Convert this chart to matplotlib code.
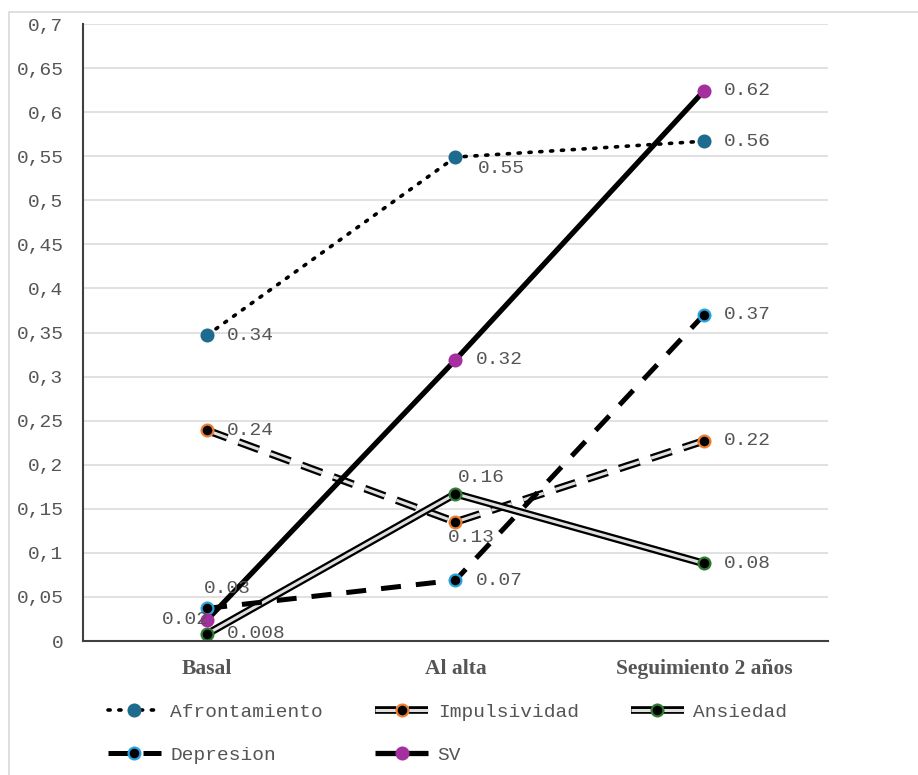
import matplotlib
matplotlib.use("Agg")
import matplotlib.pyplot as plt
import matplotlib.patheffects as pe
from matplotlib.legend_handler import HandlerTuple
from matplotlib.patches import Rectangle
import numpy as np

# data
categories = ["Basal", "Al alta", "Seguimiento 2 años"]
afrontamiento = [0.347, 0.549, 0.567]
impulsividad = [0.239, 0.135, 0.227]
ansiedad = [0.008, 0.167, 0.088]
depresion = [0.037, 0.069, 0.370]
sv = [0.024, 0.319, 0.624]

afrontamiento_lbl = ["0.34", "0.55", "0.56"]
impulsividad_lbl = ["0.24", "0.13", "0.22"]
ansiedad_lbl = ["0.008", "0.16", "0.08"]
depresion_lbl = ["0.03", "0.07", "0.37"]
sv_lbl = ["0.02", "0.32", "0.62"]

TXT = "#555555"
MONO = "Liberation Mono"
FS = 14

fig = plt.figure(figsize=(9.18, 7.75), dpi=100)
ax = fig.add_axes([83 / 918, 1 - 641 / 775, 745 / 918, 617 / 775])

# outer frame
fig.patches.append(Rectangle((9 / 918, -0.1), 1.2, 1 - 12 / 775 + 0.1,
                             transform=fig.transFigure, fill=False,
                             edgecolor="#d9d9d9", linewidth=1.2, zorder=0))

x = np.arange(len(categories))


def series(vals, labels, offsets, line_kw, mk_kw, effects=None, z=2):
    kw = dict(solid_capstyle="butt", dash_capstyle="butt")
    kw.update(line_kw)
    ln, = ax.plot(x, vals, zorder=z, **kw)
    if effects:
        ln.set_path_effects(effects)
    mk, = ax.plot(x, vals, linestyle="none", marker="o", markersize=8.5,
                  markeredgewidth=1.6, zorder=z + 0.5, **mk_kw)
    for xi, v, t, (dx, dy, ha) in zip(x, vals, labels, offsets):
        ax.annotate(t, (xi, v), xytext=(dx, dy), textcoords="offset pixels",
                    ha=ha, va="center", fontsize=FS, family=MONO, color=TXT,
                    zorder=10)
    return (ln, mk)


double = [pe.Stroke(linewidth=5.5, foreground="black"), pe.Normal()]

h_afr = series(afrontamiento, afrontamiento_lbl,
               [(20, 0, "left"), (22, -11, "left"), (20, 0, "left")],
               dict(color="black", linewidth=2.6, linestyle=(0, (0.6, 2.4)),
                    dash_capstyle="round"),
               dict(markerfacecolor="#1d6b8e", markeredgecolor="#1d6b8e"))
h_imp = series(impulsividad, impulsividad_lbl,
               [(20, 0, "left"), (-8, -15, "left"), (20, 0, "left")],
               dict(color="#e0e0e0", linewidth=2.2, linestyle=(0, (7, 4))),
               dict(markerfacecolor="black", markeredgecolor="#ed7d31"),
               effects=double)
h_ans = series(ansiedad, ansiedad_lbl,
               [(20, 0, "left"), (2, 16, "left"), (20, 0, "left")],
               dict(color="#e0e0e0", linewidth=2.2, linestyle="-"),
               dict(markerfacecolor="black", markeredgecolor="#2e7d32"),
               effects=double)
h_dep = series(depresion, depresion_lbl,
               [(-3, 20, "left"), (20, 0, "left"), (20, 0, "left")],
               dict(color="black", linewidth=3.6, linestyle=(0, (4, 3))),
               dict(markerfacecolor="black", markeredgecolor="#2aa3dc"))
h_sv = series(sv, sv_lbl,
              [(2, 0, "right"), (20, 0, "left"), (20, 0, "left")],
              dict(color="black", linewidth=3.8, linestyle="-"),
              dict(markerfacecolor="#a4309f", markeredgecolor="#a4309f"))

ax.set_xlim(-0.5, 2.5)
ax.set_ylim(0, 0.7)
yt = np.round(np.arange(0, 0.7001, 0.05), 2)
ax.set_yticks(yt)
ax.set_yticklabels([("%g" % v).replace(".", ",") for v in yt],
                   family=MONO, fontsize=FS, color=TXT)
ax.set_xticks(x)
ax.set_xticklabels(categories, family="Liberation Serif", fontweight="bold",
                   fontsize=15.5, color=TXT)
ax.tick_params(axis="y", length=0, pad=14)
ax.tick_params(axis="x", length=0, pad=13)
ax.grid(axis="y", color="#d9d9d9", linewidth=1.1)
ax.set_axisbelow(True)
for s in ["top", "right"]:
    ax.spines[s].set_visible(False)
for s in ["left", "bottom"]:
    ax.spines[s].set_color("#404040")
    ax.spines[s].set_linewidth(1.5)

# legend, column-major order to get row-wise layout
handles = [h_afr, h_dep, h_imp, h_sv, h_ans]
names = ["Afrontamiento", "Depresion", "Impulsividad", "SV", "Ansiedad"]
leg = fig.legend(handles, names, ncol=3, loc="upper left",
                 bbox_to_anchor=(108 / 918, 1 - 703 / 775), frameon=False,
                 handler_map={tuple: HandlerTuple(ndivide=1)},
                 prop={"family": MONO, "size": FS}, handlelength=2.7,
                 handletextpad=0.5, columnspacing=2.7, labelspacing=1.3,
                 borderpad=0, borderaxespad=0)
for t in leg.get_texts():
    t.set_color(TXT)

fig.savefig("out.png", dpi=100)
